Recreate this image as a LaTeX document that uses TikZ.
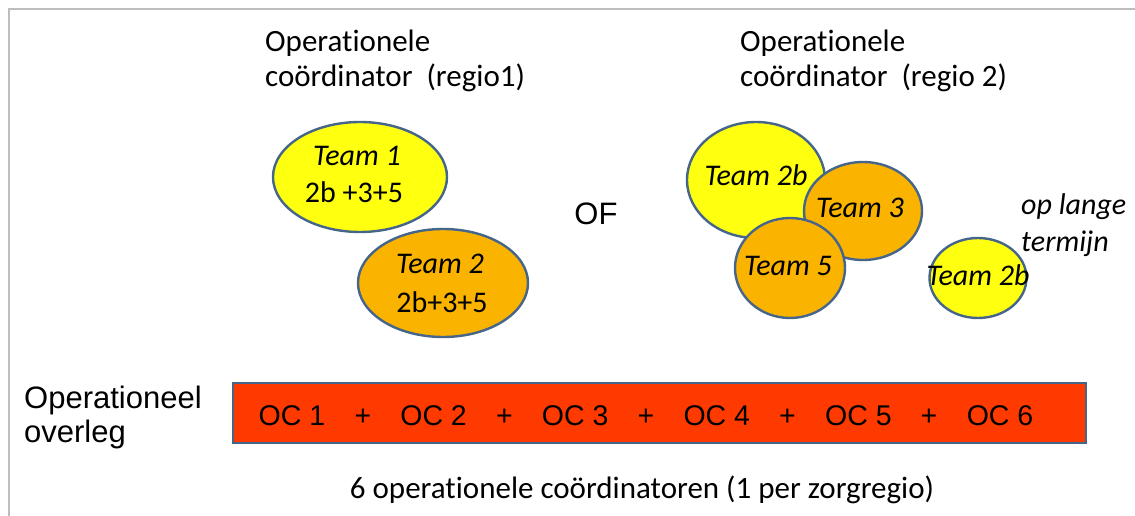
\documentclass[tikz,border=0pt]{standalone}
\usepackage{fontspec}
\setmainfont[Ligatures={NoCommon}]{Carlito}
\newfontfamily\arialfont{Liberation Sans}
\usetikzlibrary{shapes.geometric}
\definecolor{teamyellow}{HTML}{FFFF10}
\definecolor{teamorange}{HTML}{FAB400}
\definecolor{rimblue}{HTML}{45658A}
\definecolor{barred}{HTML}{FF3A00}
\definecolor{framegray}{HTML}{BDBDBD}
\tikzset{
  team/.style={ellipse, draw=rimblue, line width=2.4pt, inner sep=0pt},
  yteam/.style={team, fill=teamyellow},
  oteam/.style={team, fill=teamorange},
  headtxt/.style={font=\fontsize{31}{37}\selectfont, inner sep=0pt},
  teamtxt/.style={font=\fontsize{30}{36}\selectfont\itshape, inner sep=0pt},
  numtxt/.style={font=\fontsize{30}{36}\selectfont, inner sep=0pt},
  arialtxt/.style={font=\arialfont\fontsize{28.5}{34}\selectfont, inner sep=0pt},
  sidetxt/.style={font=\arialfont\fontsize{31}{37}\selectfont, inner sep=0pt},
}
\begin{document}
\begin{tikzpicture}[x=1pt,y=-1pt]
  \useasboundingbox (0,0) rectangle (1135,516);
  % page frame
  \draw[framegray, line width=2pt] (9,516) -- (9,9) -- (1135,9);

  % headings
  \node[headtxt, anchor=base west] (h1a) at (265,52) {Operationele};
  \node[headtxt, anchor=base west] (h1b) at (265,87) {coördinator\ \ (regio1)};
  \node[headtxt, anchor=base west] (h2a) at (740,52) {Operationele};
  \node[headtxt, anchor=base west] (h2b) at (740,87) {coördinator\ \ (regio 2)};

  % region 1 teams
  \node[yteam, minimum width=174pt, minimum height=110pt] (t1) at (360,177) {};
  \node[teamtxt, anchor=base] (t1a) at (357,165) {Team 1};
  \node[numtxt, anchor=base] (t1b) at (354,202) {2b +3+5};
  \node[oteam, minimum width=170pt, minimum height=108pt] (t2) at (443,283) {};
  \node[teamtxt, anchor=base] (t2a) at (440,273) {Team 2};
  \node[numtxt, anchor=base] (t2b) at (442,312) {2b+3+5};

  \node[sidetxt] (of) at (596,214) {OF};

  % region 2 teams
  \node[yteam, minimum width=138pt, minimum height=116pt] (t2b) at (756,180) {};
  \node[teamtxt, anchor=base] (t2ba) at (756,185) {Team 2b};
  \node[oteam, minimum width=118pt, minimum height=98pt] (t3) at (863,211) {};
  \node[teamtxt, anchor=base] (t3a) at (860,217) {Team 3};
  \node[oteam, minimum width=110pt, minimum height=100pt] (t5) at (790,268) {};
  \node[teamtxt, anchor=base] (t5a) at (788,275) {Team 5};

  \node[yteam, minimum width=97pt, minimum height=80pt] (t2bl) at (978,278) {};
  \node[teamtxt, anchor=base] (t2bla) at (978,285) {Team 2b};
  \node[teamtxt, anchor=base west] (lt1) at (1021,214) {op lange};
  \node[teamtxt, anchor=base west] (lt2) at (1021,251) {termijn};

  % operational meeting bar
  \node[sidetxt, anchor=base west] (ov1) at (24,408) {Operationeel};
  \node[sidetxt, anchor=base west] (ov2) at (24,442) {overleg};
  \node[draw=rimblue, fill=barred, line width=2.4pt, minimum width=853pt, minimum height=60pt, inner sep=0pt] (bar) at (659.5,413) {};
  \foreach \i/\x in {1/292,2/433.6,3/575.2,4/716.8,5/858.4,6/1000}
    \node[arialtxt, anchor=base] (oc\i) at (\x,425) {OC \i};
  \foreach \j/\x in {1/363,2/504.5,3/646,4/787.5,5/929}
    \node[arialtxt, anchor=base] (plus\j) at (\x,425) {+};

  \node[headtxt, anchor=base] (foot) at (642,498) {6 operationele coördinatoren (1 per zorgregio)};
\end{tikzpicture}
\end{document}
